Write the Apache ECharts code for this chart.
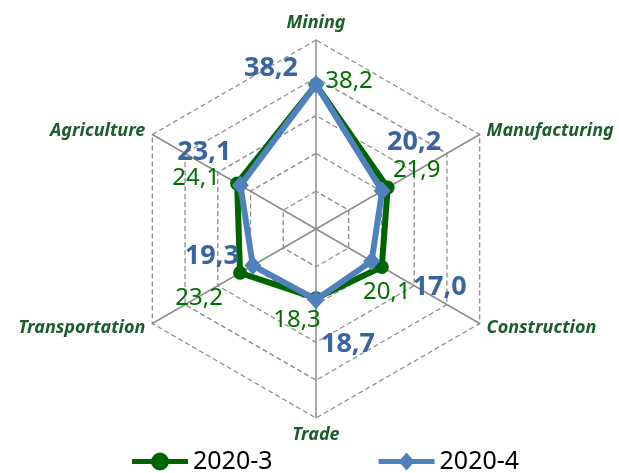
<!DOCTYPE html>
<html>
<head>
<meta charset="utf-8">
<script src="https://cdn.jsdelivr.net/npm/echarts@6/dist/echarts.min.js"></script>
<style>
  html, body { margin: 0; padding: 0; background: #fff; }
  #chart { width: 619px; height: 473px; }
</style>
</head>
<body>
<div id="chart"></div>
<script>
// listed clockwise from the top, as in the picture
const indicators = ['Mining', 'Manufacturing', 'Construction', 'Trade', 'Transportation', 'Agriculture']
const seriesNames = ['2020-3', '2020-4']
const values2020_3 = [38.2, 21.9, 20.1, 18.3, 23.2, 24.1]
const values2020_4 = [38.2, 20.2, 17.0, 18.7, 19.3, 23.1]
const axisMax = 50

// where each value label sits relative to its point (px), same order
const offsets3 = [[33, -3], [29, -17], [5, 25], [-19, 22], [-41, 25], [-41, -5]]
const offsets4 = [[-45, -16], [32, -49], [68, 26], [32, 45], [-41, -9], [-36, -33]]

const green = '#006400'
const blue = '#4F81BD'
const fmt = v => v.toFixed(1).replace('.', ',')

// echarts radar runs counter-clockwise, so flip the order
const order = [0, 5, 4, 3, 2, 1]
const reorder = arr => order.map(i => arr[i])

// one invisible polygon per dimension, each carrying one label
function labelSeries(name, vals, offsets, labelStyle) {
  const v = reorder(vals)
  const o = reorder(offsets)
  return {
    type: 'radar',
    name: name + '-labels',
    silent: true,
    z: 5,
    symbol: 'circle',
    symbolSize: 1,
    itemStyle: { color: 'transparent' },
    lineStyle: { width: 0, opacity: 0 },
    data: v.map((_, k) => ({
      value: v,
      label: {
        show: true,
        position: 'inside',
        offset: o[k],
        ...labelStyle,
        formatter: p => (p.dimensionIndex === k ? fmt(p.value) : '')
      }
    }))
  }
}

const chart = echarts.init(document.getElementById('chart'))
chart.setOption({
  animation: false,
  legend: {
    left: 127,
    top: 444,
    itemWidth: 56,
    itemHeight: 18,
    itemGap: 106,
    textStyle: { fontFamily: 'Noto Sans', fontSize: 25, color: '#000' },
    data: [
      { name: seriesNames[0], icon: 'path://M0,6.5H56V11.5H0Z M19,9A9,9 0 1 1 37,9A9,9 0 1 1 19,9Z' },
      { name: seriesNames[1], icon: 'path://M0,6.5H56V11.5H0Z M28,0L36,9L28,18L20,9Z' }
    ]
  },
  radar: {
    center: [316, 229],
    radius: 189,
    shape: 'polygon',
    splitNumber: 5,
    startAngle: 90,
    nameGap: 8,
    indicator: reorder(indicators).map(n => ({ name: n, max: axisMax, min: 0 })),
    axisName: {
      color: '#1B5E2B',
      fontFamily: 'Noto Sans',
      fontStyle: 'italic',
      fontWeight: 'bold',
      fontSize: 18
    },
    axisLine: { lineStyle: { color: '#8C8C8C', width: 1.5 } },
    splitLine: { lineStyle: { color: '#8C8C8C', width: 1.3, type: [5, 3] } },
    splitArea: { show: false }
  },
  series: [
    {
      type: 'radar',
      name: seriesNames[0],
      z: 2,
      symbol: 'circle',
      symbolSize: 14,
      itemStyle: { color: green },
      lineStyle: { color: green, width: 6 },
      data: [{ value: reorder(values2020_3), name: seriesNames[0] }]
    },
    {
      type: 'radar',
      name: seriesNames[1],
      z: 3,
      symbol: 'diamond',
      symbolSize: [17, 19],
      itemStyle: { color: blue },
      lineStyle: { color: blue, width: 6 },
      data: [{ value: reorder(values2020_4), name: seriesNames[1] }]
    },
    labelSeries(seriesNames[0], values2020_3, offsets3, {
      color: '#007000', fontFamily: 'Noto Sans', fontSize: 24
    }),
    labelSeries(seriesNames[1], values2020_4, offsets4, {
      color: '#3A64A0', fontFamily: 'Noto Sans', fontWeight: 'bold', fontSize: 27
    })
  ]
})
</script>
</body>
</html>
